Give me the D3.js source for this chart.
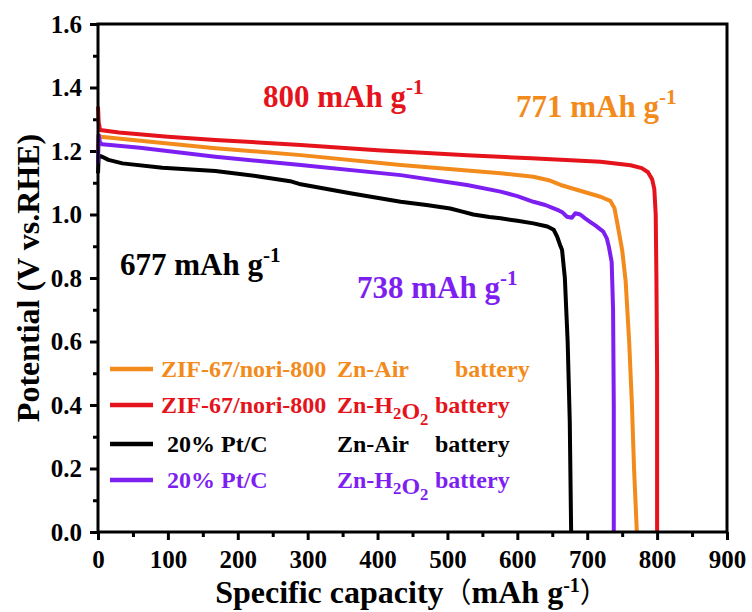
<!DOCTYPE html>
<html>
<head>
<meta charset="utf-8">
<script src="https://cdn.jsdelivr.net/npm/d3@7"></script>
<style>
  html, body { margin: 0; padding: 0; background: #fff; }
  svg { display: block; font-family: "Liberation Serif", "Times New Roman", serif; font-weight: bold; }
</style>
</head>
<body>
<svg id="chart" width="752" height="612"></svg>
<script>
// ---- data ----
const xTicks = [0, 100, 200, 300, 400, 500, 600, 700, 800, 900];
const yTicks = [0.0, 0.2, 0.4, 0.6, 0.8, 1.0, 1.2, 1.4, 1.6];
const xMinor = [50, 150, 250, 350, 450, 550, 650, 750, 850];
const yMinor = [0.1, 0.3, 0.5, 0.7, 0.9, 1.1, 1.3, 1.5];

const seriesMaterial = ["ZIF-67/nori-800", "ZIF-67/nori-800", " 20% Pt/C", " 20% Pt/C"];
const seriesCell = ["Zn-Air", "Zn-H_2O_2", "Zn-Air", "Zn-H_2O_2"];
const seriesColors = ["#F28A1C", "#E5131B", "#000000", "#7E1FF2"];
const finalCapacity = [771, 800, 677, 738];

// discharge curves: [specific capacity (mAh g-1), potential (V vs. RHE)]
const zifAir = [[0,1.20],[1,1.25],[4,1.245],[50,1.235],[168,1.209],[290,1.187],[433,1.156],[576,1.130],
  [623,1.119],[645,1.108],[662,1.093],[719,1.056],[733,1.043],[739,1.020],[743,0.973],[750,0.888],[755,0.79],
  [760,0.60],[764,0.40],[767,0.20],[771,0.0]];
const zifH2O2 = [[0,1.34],[1,1.29],[3,1.266],[30,1.258],[100,1.245],[168,1.235],[290,1.219],[400,1.202],
  [528,1.187],[620,1.177],[719,1.166],[762,1.155],[778,1.146],[787,1.133],[793,1.11],[796,1.08],
  [798,1.0],[799,0.8],[800,0.5],[800,0.0]];
const ptAir = [[0,1.13],[1,1.185],[6,1.182],[15,1.172],[35,1.161],[92,1.147],[168,1.137],[230,1.12],
  [275,1.105],[290,1.095],[361,1.067],[433,1.040],[470,1.030],[504,1.019],[520,1.010],[537,1.000],
  [560,0.992],[576,0.988],[600,0.980],[623,0.972],[643,0.962],[652,0.952],[657,0.930],[661,0.905],
  [664,0.888],[668,0.80],[672,0.60],[675,0.35],[677,0.0]];
const ptH2O2 = [[0,1.16],[1,1.25],[3,1.225],[6,1.221],[60,1.21],[168,1.182],[290,1.156],[433,1.124],
  [528,1.093],[576,1.072],[600,1.058],[623,1.040],[640,1.030],[652,1.019],[660,1.012],[665,1.006],
  [671,0.993],[678,0.990],[683,1.004],[690,1.000],[697,0.988],[704,0.977],[712,0.965],[723,0.946],
  [728,0.925],[731,0.898],[735,0.85],[737,0.70],[738,0.40],[738,0.0]];
const curves = [zifAir, zifH2O2, ptAir, ptH2O2];

// ---- layout ----
const svg = d3.select("#chart");
const plotLeft = 98, plotRight = 727, plotTop = 24, plotBottom = 532;
const x = d3.scaleLinear().domain([0, 900]).range([plotLeft, plotRight]);
const y = d3.scaleLinear().domain([0, 1.6]).range([plotBottom, plotTop]);

// axes
function styleAxis(g) {
  g.select(".domain").remove();
  g.selectAll(".tick line").attr("stroke", "#000").attr("stroke-width", 3);
  g.selectAll(".tick text").attr("fill", "#000").attr("font-family", "Liberation Serif, serif")
    .attr("font-weight", "bold").attr("font-size", 25);
}
svg.append("g").attr("transform", `translate(0,${plotBottom})`)
  .call(d3.axisBottom(x).tickValues(xTicks).tickSize(8).tickPadding(10).tickFormat(d3.format("d")))
  .call(styleAxis);
svg.append("g").attr("transform", `translate(0,${plotBottom})`)
  .call(d3.axisBottom(x).tickValues(xMinor).tickSize(5).tickFormat(""))
  .call(styleAxis);
svg.append("g").attr("transform", `translate(${plotLeft},0)`)
  .call(d3.axisLeft(y).tickValues(yTicks).tickSize(8).tickPadding(8).tickFormat(d3.format(".1f")))
  .call(styleAxis);
svg.append("g").attr("transform", `translate(${plotLeft},0)`)
  .call(d3.axisLeft(y).tickValues(yMinor).tickSize(5).tickFormat(""))
  .call(styleAxis);

// curves
const line = d3.line().x(d => x(d[0])).y(d => y(d[1])).curve(d3.curveLinear);
const drawOrder = [0, 2, 3, 1];
svg.append("g").selectAll("path").data(drawOrder).join("path")
  .attr("d", i => line(curves[i]))
  .attr("fill", "none")
  .attr("stroke", i => seriesColors[i])
  .attr("stroke-width", 4)
  .attr("stroke-linejoin", "round");

// frame
svg.append("rect").attr("x", plotLeft).attr("y", plotTop)
  .attr("width", plotRight - plotLeft).attr("height", plotBottom - plotTop)
  .attr("fill", "none").attr("stroke", "#000").attr("stroke-width", 3);

// text helpers
function addRich(text, str, size) {
  // "_" marks the following character as a subscript
  const parts = str.split(/(_.)/).filter(s => s.length);
  parts.forEach(p => {
    if (p[0] === "_") {
      text.append("tspan").attr("dy", 6).attr("font-size", size * 0.7).text(p[1]);
      text.append("tspan").attr("dy", -6).text("");
    } else {
      text.append("tspan").text(p);
    }
  });
}
function addUnit(text, value, size) {
  text.append("tspan").text(`${value} mAh g`);
  text.append("tspan").attr("dy", -size * 0.42).attr("font-size", size * 0.68).text("-1");
}

// legend
const legendY = [369, 405, 444, 480];
const legend = svg.append("g").attr("font-size", 24);
seriesMaterial.forEach((m, i) => {
  const ly = legendY[i];
  legend.append("line").attr("x1", 110).attr("x2", 153).attr("y1", ly).attr("y2", ly)
    .attr("stroke", seriesColors[i]).attr("stroke-width", 4.5);
  legend.append("text").attr("x", 161).attr("y", ly + 8).attr("fill", seriesColors[i])
    .attr("xml:space", "preserve").style("white-space", "pre").text(m);
  const cell = legend.append("text").attr("x", 337).attr("y", ly + 8).attr("fill", seriesColors[i]);
  addRich(cell, seriesCell[i], 24);
  legend.append("text").attr("x", i === 0 ? 455 : 435).attr("y", ly + 8)
    .attr("fill", seriesColors[i]).text("battery");
});

// capacity annotations
const annX = [516, 263, 120, 357];
const annY = [117, 107, 275, 298];
finalCapacity.forEach((c, i) => {
  const t = svg.append("text").attr("x", annX[i]).attr("y", annY[i])
    .attr("font-size", 31).attr("fill", seriesColors[i]);
  addUnit(t, c, 31);
});

// axis titles
const xt = svg.append("text").attr("x", (plotLeft + plotRight) / 2 - 1).attr("y", 603)
  .attr("text-anchor", "middle").attr("font-size", 32);
xt.append("tspan").text("Specific capacity");
xt.append("tspan").attr("font-family", "Noto Sans CJK SC").attr("font-weight", "normal")
  .attr("font-size", 28).text("（");
xt.append("tspan").text("mAh g");
xt.append("tspan").attr("dy", -11).attr("font-size", 20).text("-1");
xt.append("tspan").attr("dy", 11).attr("font-family", "Noto Sans CJK SC").attr("font-weight", "normal")
  .attr("font-size", 28).text("）");

svg.append("text").attr("transform", `translate(39,${(plotTop + plotBottom) / 2}) rotate(-90)`)
  .attr("text-anchor", "middle").attr("font-size", 32)
  .text("Potential (V vs.RHE)");
</script>
</body>
</html>
